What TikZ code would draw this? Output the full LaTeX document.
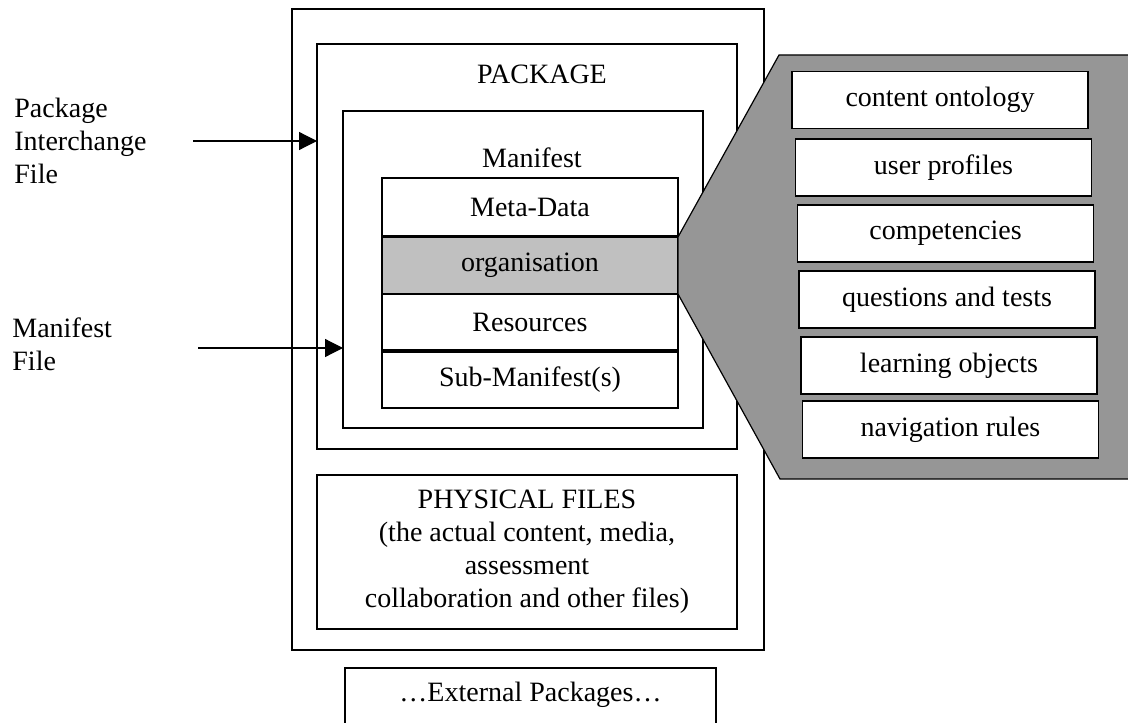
\documentclass[tikz,border=0pt]{standalone}
\usepackage{fontspec}
\setmainfont{Liberation Serif}
\usetikzlibrary{arrows.meta}
\usetikzlibrary{positioning}

\definecolor{zoomgray}{RGB}{150,150,150}
\definecolor{orggray}{RGB}{192,192,192}

\tikzset{
    txt/.style={font=\fontsize{14pt}{16.5pt}\selectfont, inner sep=0pt},
    box/.style={draw, line width=0.6pt, fill=white, inner sep=0pt, outer sep=0pt, txt},
    stackbox/.style={box, minimum width=148pt},
    itembox/.style={box, minimum width=148pt, minimum height=28.5pt},
    pointer/.style={line width=0.6pt, -{Triangle[length=9pt,width=9pt]}}
}

\begin{document}
\begin{tikzpicture}[x=0.5pt, y=-0.5pt]
    \useasboundingbox (0, 0) rectangle (1128, 722);

    \node [box, minimum width=236pt, minimum height=320.5pt] (outer) at (528, 329.5) {};
    \node [box, minimum width=210pt, minimum height=202.5pt] (package) at (527, 246.5) {};
    \node [box, minimum width=180pt, minimum height=158.5pt] (manifest) at (523, 269.5) {};

    \node [txt] at (542, 74) {PACKAGE};
    \node [txt] at (532, 158) {Manifest};

    \node [stackbox, minimum height=29pt] (meta) at (530, 207) {Meta-Data};
    \node [stackbox, minimum height=28.5pt, fill=orggray] (org) at (530, 265.5) {organisation};
    \node [stackbox, minimum height=28pt] (res) at (530, 322) {Resources};
    \node [stackbox, minimum height=28pt] (sub) at (530, 380) {Sub-Manifest(s)};

    \node [box, minimum width=210pt, minimum height=77pt, align=center] (physical) at (527, 552) {PHYSICAL FILES\\(the actual content, media,\\assessment\\collaboration and other files)};

    \node [box, minimum width=185.5pt, minimum height=35pt] (external) at (530.5, 703) {};
    \node [txt] (exttext) at (530.5, 695) {…External Packages…};

    \draw [line width=0.6pt, fill=zoomgray] (org.north east) -- (779, 55) -- (1140, 55) -- (1140, 479) -- (780, 479) -- (org.south east) -- cycle;

    \node [itembox] (ontology) at (940, 100) {content ontology};
    \node [itembox] (profiles) at (943.5, 167.5) {user profiles};
    \node [itembox] (competencies) at (945.5, 233.5) {competencies};
    \node [itembox] (tests) at (947, 299.5) {questions and tests};
    \node [itembox] (objects) at (949, 365.5) {learning objects};
    \node [itembox] (rules) at (950.5, 429.5) {navigation rules};

    \node [txt, align=left, anchor=west] (pif) at (14, 141) {Package\\Interchange\\File};
    \node [txt, align=left, anchor=west] (mf) at (12, 344) {Manifest\\File};

    \coordinate (pifstart) at (193, 141);
    \coordinate (mfstart) at (198, 348);
    \draw [pointer] (pifstart) -- (pifstart -| package.west);
    \draw [pointer] (mfstart) -- (mfstart -| manifest.west);
\end{tikzpicture}
\end{document}
